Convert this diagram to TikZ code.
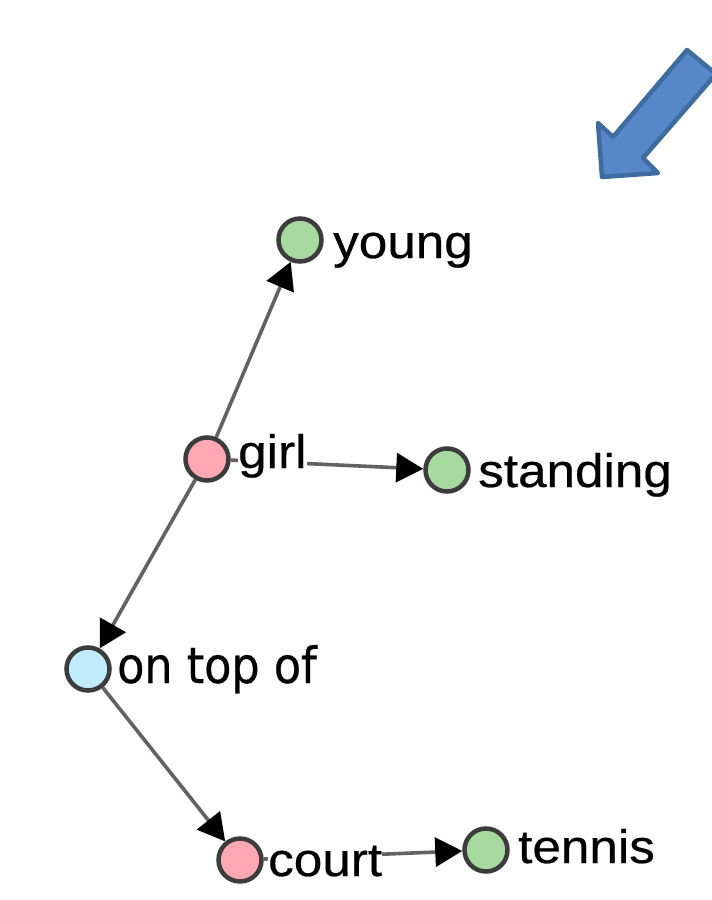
\documentclass[tikz,border=0pt]{standalone}
\usepackage{fontspec}
\setmainfont[FakeStretch=1.09,FakeBold=0.5]{Liberation Sans}
\newfontfamily\widesans[FakeStretch=0.89,FakeBold=0.5]{DejaVu Sans}
\usetikzlibrary{arrows.meta}
\definecolor{nodeborder}{HTML}{3C3C3C}
\definecolor{attrgreen}{HTML}{A6D99E}
\definecolor{objpink}{HTML}{FFA7B3}
\definecolor{relblue}{HTML}{BFEBFB}
\definecolor{edgegray}{HTML}{626262}
\definecolor{bigarrowfill}{HTML}{5787C8}
\definecolor{bigarrowline}{HTML}{3F6C9E}
\tikzset{
  graphnode/.style={circle, draw=nodeborder, line width=4.5pt, minimum size=43pt, inner sep=0pt},
  attr/.style={graphnode, fill=attrgreen},
  obj/.style={graphnode, fill=objpink},
  rel/.style={graphnode, fill=relblue},
  edge/.style={draw=edgegray, line width=3.6pt, -{Triangle[length=27pt,width=29pt,color=black]}},
  lbl/.style={anchor=base west, inner sep=0pt, fill=white, text=black, font=\fontsize{47}{53}\selectfont}
}
\begin{document}
\begin{tikzpicture}[x=1pt,y=-1pt]
  \clip (0,0) rectangle (712,900);
  \fill[white] (0,0) rectangle (712,900);

  % block arrow in the upper right corner
  \filldraw[fill=bigarrowfill, draw=bigarrowline, line width=4.5pt, line join=round]
    (687,50) -- (613,137) -- (598,123) -- (602,177) -- (658,173) -- (643,158) -- (716,74) -- cycle;

  % scene-graph nodes
  \node[attr] (young) at (300,240) {};
  \node[obj] (girl) at (207,459) {};
  \node[attr] (standing) at (447,470) {};
  \node[rel] (ontop) at (88,669) {};
  \node[obj] (court) at (240,860) {};
  \node[attr] (tennis) at (486,850) {};

  % relations
  \draw[edge] (girl) -- (young);
  \draw[edge] (girl) -- (standing);
  \draw[edge] (girl) -- (ontop);
  \draw[edge] (ontop) -- (court);
  \draw[edge] (court) -- (tennis);

  % labels
  \node[lbl] (tyoung) at (333,258) {young};
  \node[lbl] (tgirl) at (238,468) {girl};
  \node[lbl] (tstanding) at (478,487) {standing};
  \node[lbl, font=\widesans\fontsize{50}{56}\selectfont] (tontop) at (117,683) {on top of};
  \node[lbl] (tcourt) at (268,876) {court};
  \node[lbl] (ttennis) at (518,863) {tennis};
\end{tikzpicture}
\end{document}
